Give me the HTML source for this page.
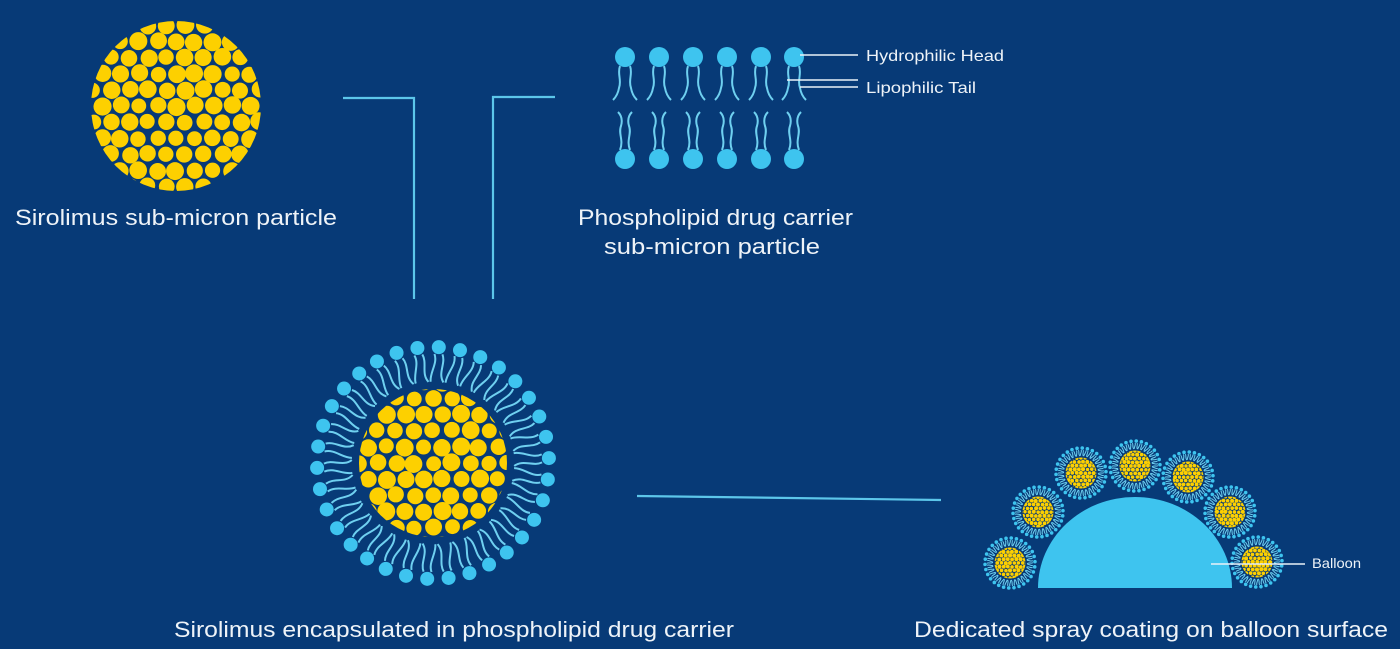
<!DOCTYPE html>
<html><head><meta charset="utf-8"><style>
html,body{margin:0;padding:0;background:#073a77;}
svg{display:block}
text{font-family:"Liberation Sans",sans-serif;fill:#eef3f8}
</style></head><body>
<svg id="s" width="1400" height="649" viewBox="0 0 1400 649" xmlns="http://www.w3.org/2000/svg">
<defs id="d"></defs>
<rect width="1400" height="649" fill="#073a77"/>
<g stroke="#5cc6ea" stroke-width="2.2" fill="none">
<polyline points="343,98 414,98 414,299"/>
<polyline points="555,97 493,97 493,299"/>
<line x1="637" y1="496" x2="941" y2="500"/>
</g>
<g id="g"></g>
<g stroke="#eaf2f8" stroke-width="1.6" fill="none">
<line x1="800" y1="55" x2="858" y2="55"/>
<line x1="787" y1="80" x2="858" y2="80"/>
<line x1="800" y1="87" x2="858" y2="87"/>
<line x1="1211" y1="564" x2="1305" y2="564"/>
</g>
<text x="866" y="61" font-size="16" textLength="138" lengthAdjust="spacingAndGlyphs">Hydrophilic Head</text>
<text x="866" y="93" font-size="16" textLength="110" lengthAdjust="spacingAndGlyphs">Lipophilic Tail</text>
<text x="1312" y="568" font-size="14" textLength="49" lengthAdjust="spacingAndGlyphs">Balloon</text>
<text x="15" y="225" font-size="22" textLength="322" lengthAdjust="spacingAndGlyphs">Sirolimus sub-micron particle</text>
<text x="578" y="225" font-size="22" textLength="275" lengthAdjust="spacingAndGlyphs">Phospholipid drug carrier</text>
<text x="604" y="254" font-size="22" textLength="216" lengthAdjust="spacingAndGlyphs">sub-micron particle</text>
<text x="174" y="637" font-size="22" textLength="560" lengthAdjust="spacingAndGlyphs">Sirolimus encapsulated in phospholipid drug carrier</text>
<text x="914" y="637" font-size="22" textLength="474" lengthAdjust="spacingAndGlyphs">Dedicated spray coating on balloon surface</text>
</svg>
<script>
var NS="http://www.w3.org/2000/svg",G=document.getElementById('g'),D=document.getElementById('d');
var Y="#fdd000",B="#3ec4ef",T="#6fd0f0";
var seed=7,cid=0;function rnd(){seed=(seed*16807)%2147483647;return seed/2147483647;}
function el(n,a,p){var e=document.createElementNS(NS,n);for(var k in a)e.setAttribute(k,a[k]);(p||G).appendChild(e);return e;}
function packed(cx,cy,R,sp){
 var id="c"+(cid++);var cp=el('clipPath',{id:id},D);el('circle',{cx:cx,cy:cy,r:R},cp);
 var g=el('g',{'clip-path':'url(#'+id+')'});
 for(var j=-20;j<=20;j++)for(var i=-20;i<=20;i++){
  var x=cx+(i+(j%2?0.5:0))*sp+(rnd()-.5)*sp*.12,y=cy+j*sp*0.87+(rnd()-.5)*sp*.12;
  var d=Math.hypot(x-cx,y-cy);if(d>R+sp*0.4)continue;
  var r=sp*(0.40+rnd()*0.09);
  el('circle',{cx:x,cy:y,r:r,fill:Y},g);}
}
packed(176,106,85,18.5);
packed(433,463,74,18.5);
var xs=[625,659,693,727,761,794];
xs.forEach(function(x){
 el('circle',{cx:x,cy:57,r:10,fill:B});el('circle',{cx:x,cy:159,r:10,fill:B});
 var p="M"+(x-5)+",66 c-3,8 2,14 -1,22 c-1,6 -3,9 -6,12 M"+(x+5)+",66 c3,8 -2,14 1,22 c1,6 3,9 6,12 "+
 "M"+(x-7)+",112 c3,3 5,7 3,14 c-3,8 3,14 -1,24 M"+(x+7)+",112 c-3,3 -5,7 -3,14 c3,8 -3,14 1,24";
 el('path',{d:p,stroke:T,'stroke-width':2,fill:"none"});
});
function lipidRing(cx,cy,n,rh,rt0,rt1,hr,sw,gap){
 for(var k=0;k<n;k++){
  var a=k/n*Math.PI*2-Math.PI/2+0.05,c=Math.cos(a),s=Math.sin(a),px=-s,py=c;
  var hx=cx+c*rh,hy=cy+s*rh;
  var d="";
  [-1,1].forEach(function(sg){
   var x0=cx+c*rt0+px*gap*sg,y0=cy+s*rt0+py*gap*sg,x1=cx+c*rt1+px*gap*sg*1.6,y1=cy+s*rt1+py*gap*sg*1.6;
   var m1x=cx+c*(rt0*0.67+rt1*0.33)+px*gap*(sg+1.0),m1y=cy+s*(rt0*0.67+rt1*0.33)+py*gap*(sg+1.0);
   var m2x=cx+c*(rt0*0.33+rt1*0.67)+px*gap*(sg-1.0),m2y=cy+s*(rt0*0.33+rt1*0.67)+py*gap*(sg-1.0);
   d+="M"+x0+","+y0+" C"+m1x+","+m1y+" "+m2x+","+m2y+" "+x1+","+y1+" ";
  });
  el('path',{d:d,stroke:T,'stroke-width':sw,fill:"none"});
  el('circle',{cx:hx,cy:hy,r:hr,fill:B});
 }
}
lipidRing(433,463,34,116,109,81,7,2,4);
el('path',{d:"M1038,588 A97,91 0 0 1 1232,588 Z",fill:"#3ec4ef"});
[[1010,563],[1038,512],[1081,473],[1135,466],[1188,477],[1230,512],[1257,562]].forEach(function(c){
 lipidRing(c[0],c[1],30,25,23,17,1.8,1,1);
 packed(c[0],c[1],15.5,4.3);
});
</script>
</body></html>
